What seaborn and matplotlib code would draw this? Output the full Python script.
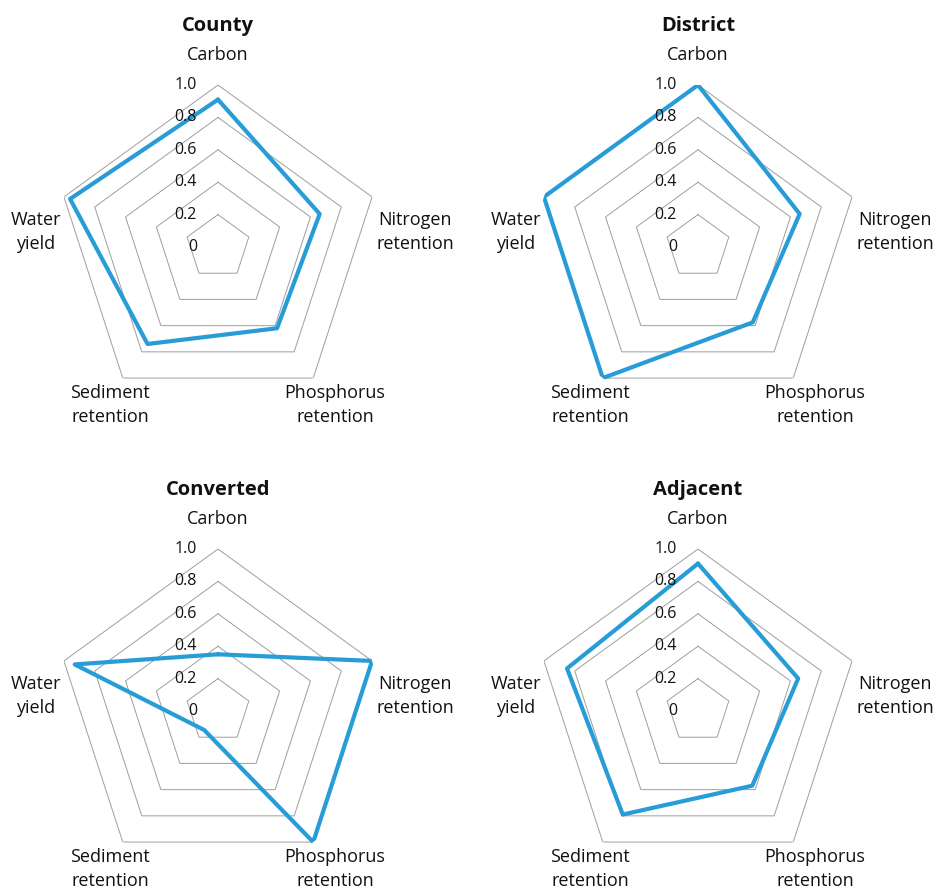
import numpy as np
import pandas as pd
import matplotlib
matplotlib.use("Agg")
import matplotlib.pyplot as plt
import seaborn as sns

# values
categories = ["Carbon", "Nitrogen\nretention", "Phosphorus\nretention",
              "Sediment\nretention", "Water\nyield"]
panels = ["County", "District", "Converted", "Adjacent"]
county = [0.91, 0.66, 0.62, 0.74, 0.96]
district = [1.0, 0.66, 0.575, 1.0, 1.0]
converted = [0.35, 1.0, 1.0, 0.145, 0.93]
adjacent = [0.91, 0.65, 0.57, 0.79, 0.85]
levels = [0.2, 0.4, 0.6, 0.8, 1.0]
level_labels = ["0", "0.2", "0.4", "0.6", "0.8", "1.0"]

sns.set_style("white")
plt.rcParams["font.family"] = ["Open Sans", "DejaVu Sans"]

line_color = "#279cd6"
grid_color = "#9e9e9e"

fig = plt.figure(figsize=(9.36, 8.9), dpi=100)

# axes boxes (left, bottom, width, height) in figure fraction
W, H = 324 / 936, 324 / 890
boxes = [(56 / 936, 481 / 890), (536 / 936, 481 / 890),
         (56 / 936, 17 / 890), (536 / 936, 17 / 890)]

n = len(categories)
theta = np.arange(n) * 2 * np.pi / n

# label positions in axes coords
label_pos = [(0.5, 1.093), (1.108, 0.546), (0.861, 0.012),
             (0.167, 0.012), (-0.062, 0.546)]

for name, vals, (l, b) in zip(panels, [county, district, converted, adjacent], boxes):
    ax = fig.add_axes([l, b, W, H], projection="polar")
    ax.set_theta_offset(np.pi / 2)
    ax.set_theta_direction(-1)

    # pentagon grid
    closed_theta = np.append(theta, theta[0])
    for lv in levels:
        ax.plot(closed_theta, [lv] * (n + 1), color=grid_color, lw=0.7, zorder=1)

    df = pd.DataFrame({"theta": closed_theta, "value": vals + [vals[0]]})
    sns.lineplot(data=df, x="theta", y="value", ax=ax, sort=False,
                 estimator=None, color=line_color, lw=3.0, zorder=3)

    ax.set_ylim(0, 1)
    ax.set_xticks([])
    ax.set_yticks([])
    ax.grid(False)
    ax.spines["polar"].set_visible(False)
    ax.set_xlabel("")
    ax.set_ylabel("")

    # radial tick labels
    for i, txt in enumerate(level_labels):
        ax.text(0.435, 0.5 + i * 0.1, txt, transform=ax.transAxes,
                ha="right", va="center", fontsize=11.5, color="#111111", zorder=4)

    # category labels
    for cat, (x, y) in zip(categories, label_pos):
        ax.text(x, y, cat, transform=ax.transAxes, ha="center", va="center",
                fontsize=13, color="#111111", linespacing=1.45)

    ax.text(0.5, 1.183, name, transform=ax.transAxes, ha="center", va="center",
            fontsize=14.5, fontweight="bold", color="#111111")

fig.savefig("out.png", dpi=100)
